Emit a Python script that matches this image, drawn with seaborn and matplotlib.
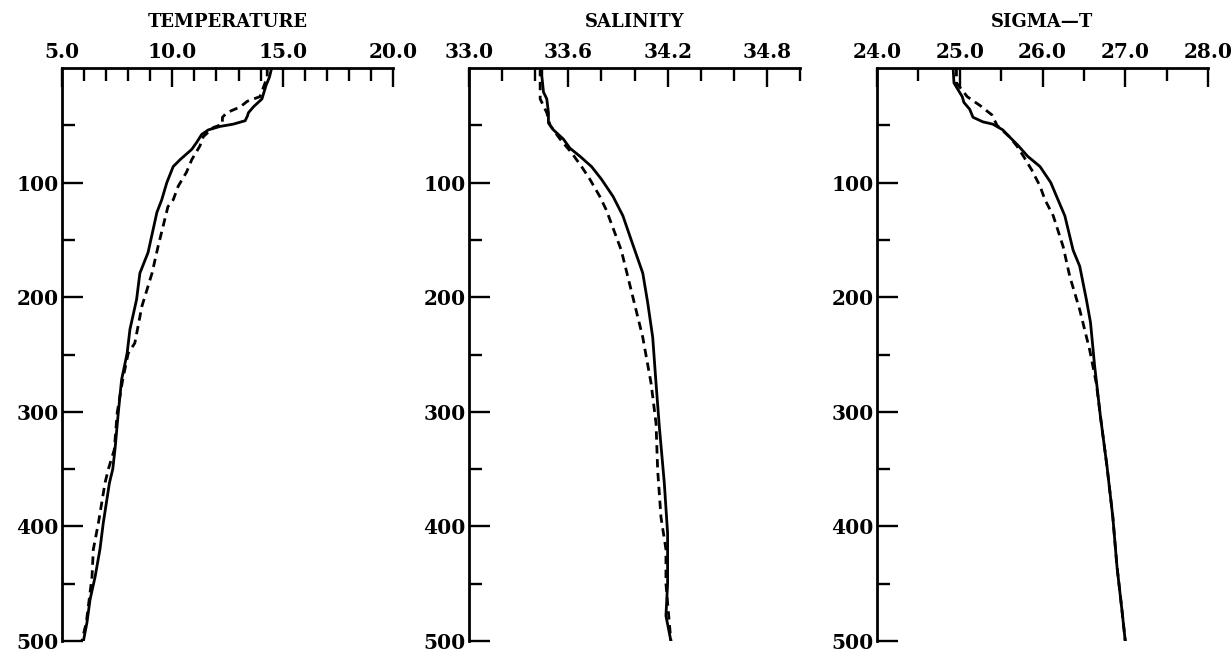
import numpy as np
import pandas as pd
import matplotlib
matplotlib.use("Agg")
import matplotlib.pyplot as plt
import seaborn as sns

# ---------------- data ----------------
temp_solid_depth = [0, 8, 15, 27, 34, 39, 42, 46, 49, 51, 54, 58, 65, 71, 80, 86, 100, 115, 126,
                    161, 179, 202, 228, 249, 272, 301, 333, 350, 362, 397, 420, 444, 464, 484, 500]
temp_solid = [14.5, 14.4, 14.25, 14.06, 13.67, 13.45, 13.4, 13.3, 12.76, 12.16, 11.63, 11.33, 11.1,
              10.88, 10.35, 10.04, 9.75, 9.52, 9.3, 8.9, 8.53, 8.38, 8.08, 7.95, 7.7, 7.55, 7.4,
              7.3, 7.15, 6.87, 6.72, 6.5, 6.27, 6.13, 5.97]
temp_dash_depth = [0, 8, 25, 29, 34, 39, 43, 49, 52, 60, 68, 80, 91, 103, 115, 121, 156, 179, 208,
                   240, 249, 272, 301, 333, 350, 362, 397, 420, 444, 464, 484, 500]
temp_dash = [14.3, 14.3, 13.97, 13.4, 13.07, 12.47, 12.27, 12.27, 11.85, 11.4, 11.25, 10.88, 10.64,
             10.27, 10.04, 9.8, 9.35, 9.08, 8.62, 8.3, 8.0, 7.75, 7.5, 7.37, 7.1, 6.95, 6.65, 6.42,
             6.36, 6.23, 6.1, 5.9]

sal_solid_depth = [0, 7, 21, 27, 39, 48, 54, 62, 70, 77, 86, 97, 112, 129, 150, 179, 205, 235, 275,
                   313, 362, 406, 450, 478, 500]
sal_solid = [33.44, 33.44, 33.45, 33.47, 33.48, 33.48, 33.51, 33.57, 33.61, 33.67, 33.74, 33.8,
             33.87, 33.93, 33.98, 34.05, 34.08, 34.11, 34.13, 34.15, 34.18, 34.2, 34.2, 34.19, 34.22]
sal_dash_depth = [0, 27, 39, 50, 62, 74, 86, 97, 112, 124, 159, 194, 235, 275, 310, 351, 392, 420,
                  450, 500]
sal_dash = [33.43, 33.43, 33.47, 33.49, 33.55, 33.62, 33.68, 33.73, 33.79, 33.83, 33.92, 33.98,
            34.05, 34.1, 34.13, 34.14, 34.16, 34.19, 34.19, 34.22]

sig_solid_depth = [0, 13, 25, 30, 36, 43, 47, 49, 54, 60, 68, 77, 86, 100, 112, 129, 159, 173, 202,
                   222, 260, 304, 348, 392, 435, 473, 500]
sig_solid = [24.92, 24.93, 25.03, 25.05, 25.12, 25.16, 25.28, 25.4, 25.52, 25.6, 25.71, 25.82,
             25.97, 26.1, 26.17, 26.27, 26.37, 26.45, 26.53, 26.58, 26.63, 26.7, 26.78, 26.85,
             26.9, 26.96, 27.0]
sig_dash_depth = [0, 13, 25, 33, 41, 50, 60, 68, 77, 89, 103, 115, 129, 156, 182, 211, 246, 275,
                  304, 348, 392, 435, 473, 500]
sig_dash = [24.96, 24.96, 25.09, 25.25, 25.39, 25.45, 25.6, 25.69, 25.77, 25.87, 25.97, 26.03,
            26.13, 26.25, 26.33, 26.45, 26.57, 26.65, 26.7, 26.78, 26.85, 26.9, 26.96, 27.0]

titles = ["TEMPERATURE", "SALINITY", "SIGMA\u2014T"]
x_ranges = [(5.0, 20.0), (33.0, 35.0), (24.0, 28.0)]
x_major = [[5.0, 10.0, 15.0, 20.0], [33.0, 33.6, 34.2, 34.8], [24.0, 25.0, 26.0, 27.0, 28.0]]
x_minor = [list(np.arange(5, 21, 1.0)), list(np.round(np.arange(33.0, 35.01, 0.2), 1)),
           list(np.arange(24.0, 28.01, 0.5))]
depth_major = [100, 200, 300, 400, 500]
depth_minor = [50, 150, 250, 350, 450]

series = [
    (temp_solid_depth, temp_solid, temp_dash_depth, temp_dash),
    (sal_solid_depth, sal_solid, sal_dash_depth, sal_dash),
    (sig_solid_depth, sig_solid, sig_dash_depth, sig_dash),
]

# ---------------- figure ----------------
sns.set_style("white")
plt.rcParams["font.family"] = ["DejaVu Serif"]
plt.rcParams["font.weight"] = "bold"
for k in ["text.color", "axes.labelcolor", "xtick.color", "ytick.color",
          "xtick.labelcolor", "ytick.labelcolor", "axes.edgecolor"]:
    plt.rcParams[k] = "black"

W, H = 1232, 656
fig = plt.figure(figsize=(W / 100, H / 100), dpi=100)

lefts_px = [62, 469, 877]
width_px = 331
top_px, bot_px = 68, 641

for i in range(3):
    ax = fig.add_axes([lefts_px[i] / W, 1 - bot_px / H, width_px / W, (bot_px - top_px) / H])
    sd, sv, dd, dv = series[i]
    df_s = pd.DataFrame({"depth": sd, "val": sv})
    df_d = pd.DataFrame({"depth": dd, "val": dv})
    sns.lineplot(data=df_s, x="val", y="depth", orient="y", sort=False, estimator=None,
                 color="black", linewidth=2.0, ax=ax)
    sns.lineplot(data=df_d, x="val", y="depth", orient="y", sort=False, estimator=None,
                 color="black", linewidth=2.0, linestyle=(0, (3.0, 2.0)), ax=ax)
    ax.set_xlim(*x_ranges[i])
    ax.set_ylim(500, 0)
    ax.set_xlabel("")
    ax.set_ylabel("")
    for s in ["right", "bottom"]:
        ax.spines[s].set_visible(False)
    for s in ["left", "top"]:
        ax.spines[s].set_linewidth(2.0)
        ax.spines[s].set_color("black")
    ax.xaxis.tick_top()
    ax.set_xticks(x_major[i])
    ax.set_xticklabels([f"{v:.1f}" for v in x_major[i]])
    ax.set_xticks(x_minor[i], minor=True)
    ax.set_yticks(depth_major)
    ax.set_yticklabels([str(d) for d in depth_major])
    ax.set_yticks(depth_minor, minor=True)
    ax.tick_params(axis="x", which="both", direction="in", top=True, bottom=False,
                   labeltop=True, labelbottom=False, width=1.7, color="black",
                   labelcolor="black")
    ax.tick_params(axis="x", which="major", length=14, pad=4, labelsize=14.5)
    ax.tick_params(axis="x", which="minor", length=9.5)
    ax.tick_params(axis="y", which="both", direction="in", left=True, right=False,
                   width=1.7, color="black", labelcolor="black")
    ax.tick_params(axis="y", which="major", length=15, pad=2.5, labelsize=14.5)
    ax.tick_params(axis="y", which="minor", length=9.5)
    for lab in ax.get_xticklabels() + ax.get_yticklabels():
        lab.set_fontweight("bold")
    ax.text(0.5, 1 + (68 - 22) / (bot_px - top_px), titles[i], transform=ax.transAxes,
            ha="center", va="center", fontsize=13, fontweight="bold", color="black")
    ax.set_facecolor("white")
    ax.grid(False)

fig.savefig("out.png", dpi=100, facecolor="white")
